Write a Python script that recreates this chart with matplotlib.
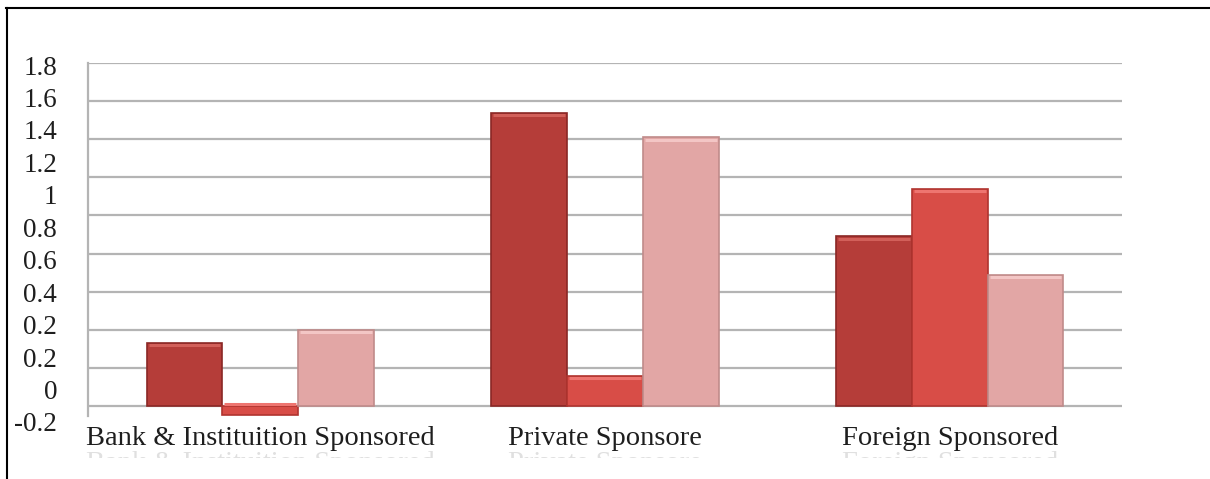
import matplotlib
matplotlib.use("Agg")
import matplotlib.pyplot as plt
import numpy as np
from matplotlib.lines import Line2D
from matplotlib.transforms import Bbox

# --- data -------------------------------------------------------------
categories = ["Bank & Instituition Sponsored", "Private Sponsore", "Foreign Sponsored"]
series_a = [0.33, 1.54, 0.89]
series_b = [-0.045, 0.16, 1.14]
series_c = [0.40, 1.41, 0.69]
grid_values = [0.0, 0.2, 0.4, 0.6, 0.8, 1.0, 1.2, 1.4, 1.6, 1.8]
y_labels = ["-0.2", "0", "0.2", "0.2", "0.4", "0.6", "0.8", "1", "1.2", "1.4", "1.6", "1.8"]

face_colors = ["#b53d39", "#d84d47", "#e2a6a5"]
edge_colors = ["#8a2725", "#b0342f", "#c08b8a"]
top_colors = ["#d2605a", "#ee7570", "#f3c6c5"]

W, H, DPI = 1210, 479, 100
fig = plt.figure(figsize=(W / DPI, H / DPI), dpi=DPI)
fig.patch.set_facecolor("white")

serif = ["Liberation Serif", "DejaVu Serif"]
txt_color = "#1e1e1e"

def fx(px):
    return px / W

def fy(py):
    return 1 - py / H

# main plotting area
ax = fig.add_axes([fx(88), fy(416), fx(1122) - fx(88), fy(63) - fy(416)])
ax.set_xlim(-0.5, 2.5)
ax.set_ylim(-0.052, 1.8)

for g in grid_values:
    ax.axhline(g, color="#b4b4b4", lw=1.6, zorder=0)

x = np.arange(len(categories))
bw = 0.22
for i, (vals, fc, ec, tc) in enumerate(zip([series_a, series_b, series_c],
                                           face_colors, edge_colors, top_colors)):
    bars = ax.bar(x + (i - 1) * bw, vals, width=bw, color=fc, edgecolor=ec,
                  linewidth=1.2, zorder=2)
    # lighter bevel along the outer edge of each bar
    for b, v in zip(bars, vals):
        edge = b.get_y() + b.get_height() if v >= 0 else b.get_y()
        ax.plot([b.get_x() + 0.006, b.get_x() + b.get_width() - 0.006],
                [edge - np.sign(v) * 0.012] * 2, color=tc, lw=2.2,
                solid_capstyle="butt", zorder=3)

for s in ["top", "right", "bottom"]:
    ax.spines[s].set_visible(False)
ax.spines["left"].set_color("#b4b4b4")
ax.spines["left"].set_linewidth(1.6)
ax.set_yticks([])
ax.set_xticks(x)
ax.set_xticklabels(categories, fontfamily=serif, fontsize=20.5, color=txt_color)
ax.tick_params(axis="x", length=0, pad=7)

# value labels column on the left
lab = fig.add_axes([fx(60), fy(438.2), 0.0005, fy(48.8) - fy(438.2)])
lab.set_ylim(-0.5, len(y_labels) - 0.5)
lab.set_yticks(np.arange(len(y_labels)))
lab.set_yticklabels(y_labels, fontfamily=serif, fontsize=19.5, color=txt_color)
lab.tick_params(axis="y", length=0, pad=2)
lab.set_xticks([])
for s in lab.spines.values():
    s.set_visible(False)
lab.patch.set_alpha(0)

# faint echo of the category names just below them
clip = Bbox.from_extents(0, H - 458, W, H - 450)
for xi, name in zip(x, categories):
    px = ax.transData.transform((xi, 0))[0]
    t = fig.text(px / W, fy(451), name, fontfamily=serif, fontsize=20.5,
                 color="#e0e0e0", ha="center", va="top")
    t.set_clip_box(clip)
    t.set_clip_on(True)

# page frame lines (top and left)
fig.add_artist(Line2D([fx(6), 1], [fy(8), fy(8)], color="black", lw=1.5))
fig.add_artist(Line2D([fx(7), fx(7)], [fy(8), 0], color="black", lw=1.5))

fig.savefig("out.png", dpi=DPI, facecolor="white")
